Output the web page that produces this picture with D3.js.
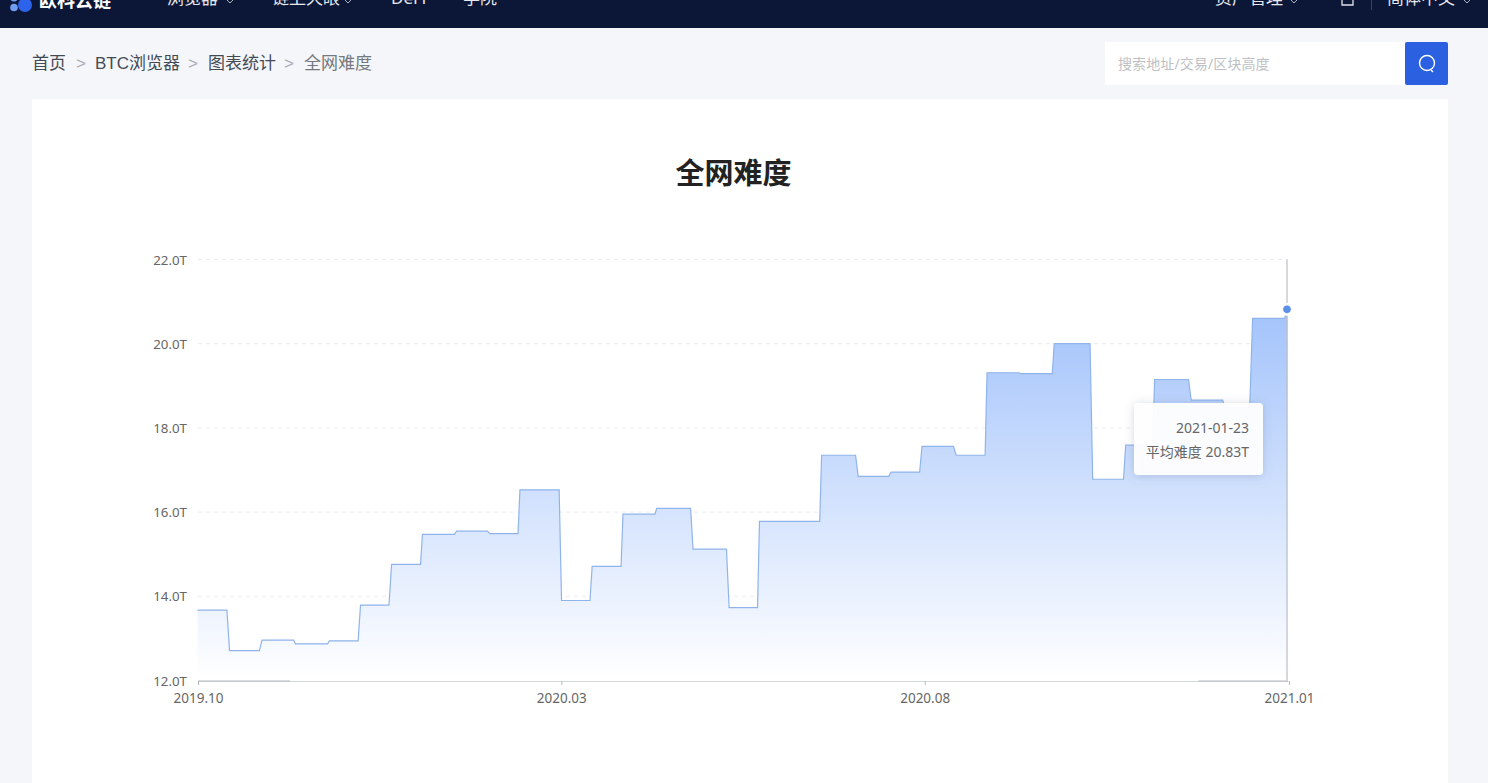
<!DOCTYPE html>
<html lang="zh-CN"><head><meta charset="utf-8"><title>全网难度</title>
<script src="https://cdn.jsdelivr.net/npm/d3@7/dist/d3.min.js"></script>
<style>
html,body{margin:0;padding:0;width:1488px;height:783px;overflow:hidden;background:#f4f6f9}
svg{display:block}
text{font-family:"Noto Sans","Noto Sans CJK SC",sans-serif}
</style></head><body><div id="chart"></div>
<script>
// Step levels, in days from the first axis label
const levelStart=[0,13.4,27.0,41.0,55.2,68.2,81.2,94.1,108.4,122.4,134.9,152.3,165.1,178.0,192.1,207.3,222.4,235.1,261.1,276.4,290.2,303.1,317.4,330.3,344.4,358.4,374.5,388.3,400.4,415.7,429.7,441.4,455.9];
const levelEnd=[12.3,25.9,40.2,54.4,67.2,80.1,93.3,107.5,121.3,134.1,151.3,164.2,177.2,191.4,206.3,221.3,234.3,260.3,275.3,289.1,302.1,316.3,329.5,343.5,357.6,373.4,387.4,399.6,414.6,428.9,440.2,454.8,456];
const levelValue=[13.67,12.71,12.96,12.87,12.94,13.79,14.76,15.47,15.55,15.49,16.53,13.90,14.71,15.95,16.09,15.12,13.73,15.78,17.35,16.85,16.95,17.56,17.35,19.31,19.29,20.00,16.78,17.59,19.15,18.66,18.50,20.60,20.83];
const xTickDays=[0,152,304,456.4];
const xTickLabels=["2019.10","2020.03","2020.08","2021.01"];
const yTicks=[12,14,16,18,20,22];
const navLeft=[["浏览器",167],["链上天眼",272],["DeFi",391],["学院",463]];
const navRight=[["资产管理",1215],["简体中文",1387]];
const navCarets=[230,348,1294,1467];
const crumbs=[["首页",32,"#444a55"],[">",76,"#a9adb6"],["BTC浏览器",95,"#444a55"],[">",188,"#a9adb6"],["图表统计",208,"#444a55"],[">",284,"#a9adb6"],["全网难度",304,"#74787f"]];
const tooltipDate="2021-01-23", tooltipText="平均难度 20.83T";

const svg=d3.select("#chart").append("svg").attr("width",1488).attr("height",783);
const defs=svg.append("defs");
const grad=defs.append("linearGradient").attr("id","fill").attr("x1",0).attr("x2",0).attr("y1",0).attr("y2",1);
grad.append("stop").attr("offset",0).attr("stop-color","#a3c3fb");
grad.append("stop").attr("offset",1).attr("stop-color","#ffffff");
const sh=defs.append("filter").attr("id","sh").attr("x","-20%").attr("y","-30%").attr("width","140%").attr("height","160%");
sh.append("feDropShadow").attr("dx",0).attr("dy",1).attr("stdDeviation",5).attr("flood-color","#5a6a8a").attr("flood-opacity",0.28);

// page chrome
svg.append("rect").attr("width",1488).attr("height",28).attr("fill","#0c1738");
svg.append("circle").attr("cx",14).attr("cy",7.5).attr("r",3.8).attr("fill","#6f9bf0");
svg.append("circle").attr("cx",14).attr("cy",-2).attr("r",3.6).attr("fill","#6f9bf0");
svg.append("circle").attr("cx",25).attr("cy",5).attr("r",7).attr("fill","#2d62ea");
svg.append("text").attr("x",39).attr("y",7).attr("font-size",18).attr("font-weight",700).attr("fill","#fff").text("欧科云链");
svg.selectAll(".nl").data(navLeft.concat(navRight)).join("text").attr("x",d=>d[1]).attr("y",4).attr("font-size",17).attr("fill","#e6e8ee").text(d=>d[0]);
svg.selectAll(".nc").data(navCarets).join("path").attr("d",d=>`M${d-3} 0l3 3l3 -3`).attr("fill","none").attr("stroke","#aeb4c2").attr("stroke-width",1);
svg.append("rect").attr("x",1371).attr("y",0).attr("width",1).attr("height",10).attr("fill","#3a4560");
svg.append("path").attr("d","M1342 0V5H1353V0").attr("fill","none").attr("stroke","#dfe2e9").attr("stroke-width",1.3);
svg.selectAll(".cr").data(crumbs).join("text").attr("x",d=>d[1]).attr("y",69).attr("font-size",17).attr("fill",d=>d[2]).style("font-family",'"Liberation Sans","Noto Sans CJK SC",sans-serif').text(d=>d[0]);
svg.append("rect").attr("x",1105).attr("y",42).attr("width",300).attr("height",43).attr("fill","#fff");
svg.append("text").attr("x",1118).attr("y",69).attr("font-size",14).attr("letter-spacing",.1).attr("fill","#bdbfc4").text("搜索地址/交易/区块高度");
svg.append("rect").attr("x",1405).attr("y",42).attr("width",43).attr("height",43).attr("rx",2).attr("fill","#2b60e0");
svg.append("circle").attr("cx",1427).attr("cy",63).attr("r",7.5).attr("fill","none").attr("stroke","#fff").attr("stroke-width",1.4);
svg.append("path").attr("d","M1431 70l2 2").attr("stroke","#fff").attr("stroke-width",1.4);
svg.append("rect").attr("x",32).attr("y",99).attr("width",1416).attr("height",684).attr("fill","#fff");
svg.append("text").attr("x",733.5).attr("y",184).attr("text-anchor","middle").attr("font-size",29).attr("font-weight",700).attr("fill","#222").text("全网难度");

// chart
const x=d3.scaleLinear().domain([0,456]).range([198,1288]);
const y=d3.scaleLinear().domain([12,22]).range([680.5,259.5]);
const pts=levelValue.flatMap((v,i)=>[[levelStart[i],v],[levelEnd[i],v]]);
const grid=svg.append("g");
grid.selectAll("line").data(yTicks.filter(t=>t>12)).join("line")
  .attr("x1",198).attr("x2",1288).attr("y1",d=>y(d)).attr("y2",d=>y(d))
  .attr("stroke","#e9ebef").attr("stroke-dasharray","4 4");
svg.append("path").datum(pts).attr("fill","url(#fill)")
  .attr("d",d3.area().x(d=>x(d[0])-.5).y0(y(12)).y1(d=>y(d[1])));
svg.append("path").datum(pts).attr("fill","none").attr("stroke","#8fb4ec").attr("stroke-width",1.2)
  .attr("d",d3.line().x(d=>x(d[0])-.5).y(d=>y(d[1])));

const axY=svg.append("g").attr("transform","translate(187,0.4)").call(d3.axisLeft(y).tickValues(yTicks).tickSize(0).tickPadding(0).tickFormat(d=>d.toFixed(1)+"T"));
axY.select(".domain").remove();
axY.selectAll("text").attr("font-size",13.3).attr("fill","#666").style("font-family",'"Noto Sans","Noto Sans CJK SC",sans-serif');

const tickLabel=d3.scaleOrdinal().domain(xTickDays).range(xTickLabels);
const axX=svg.append("g").attr("transform","translate(0,681)").call(d3.axisBottom(x).tickValues(xTickDays).tickSize(4).tickPadding(8).tickSizeOuter(0).tickFormat(d=>tickLabel(d)));
axX.select(".domain").attr("stroke","#d6d9df");
axX.selectAll("line").attr("stroke","#b5b9c0");
axX.selectAll("text").attr("font-size",13.5).attr("fill","#666").style("font-family",'"Noto Sans","Noto Sans CJK SC",sans-serif');
// darker axis ends
[[0,38.5],[418.5,456]].forEach(r=>svg.append("line").attr("x1",x(r[0])).attr("x2",x(r[1])).attr("y1",681).attr("y2",681).attr("stroke","#b4b8bf"));

// crosshair and focus point
const last=levelValue.length-1;
svg.append("line").attr("x1",x(456)-1).attr("x2",x(456)-1).attr("y1",y(22)).attr("y2",y(12)).attr("stroke","#b9bec6").attr("stroke-width",1.2);
svg.append("circle").attr("cx",x(456)-1).attr("cy",y(levelValue[last])+.6).attr("r",6.5).attr("fill","#fff").attr("opacity",.95);
svg.append("circle").attr("cx",x(456)-1).attr("cy",y(levelValue[last])+.6).attr("r",3.8).attr("fill","#5c8fe6");

// tooltip
svg.append("rect").attr("x",1134).attr("y",403).attr("width",129).attr("height",72).attr("rx",4).attr("fill","#fff").attr("fill-opacity",.95).attr("filter","url(#sh)");
svg.append("text").attr("x",1249).attr("y",433).attr("text-anchor","end").attr("font-size",14).attr("fill","#666").text(tooltipDate);
svg.append("text").attr("x",1249).attr("y",457).attr("text-anchor","end").attr("font-size",14).attr("fill","#666").text(tooltipText);
</script></body></html>
